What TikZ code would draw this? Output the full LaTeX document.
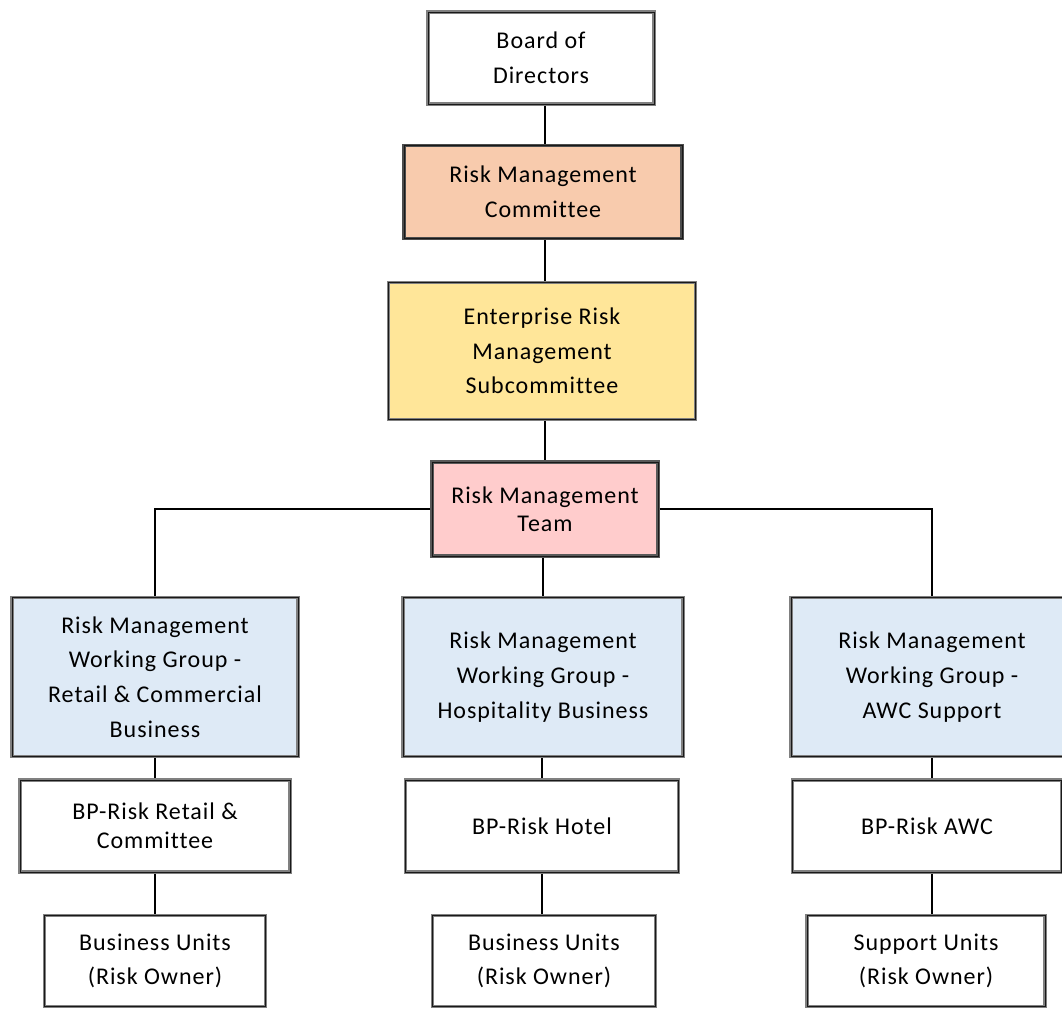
\documentclass[tikz,border=0pt]{standalone}
\usepackage{fontspec}
\setmainfont{Carlito}[LetterSpace=4, Ligatures={NoCommon}]
\usepackage{xcolor}
\usepackage{tikz}
\usetikzlibrary{positioning}
\usetikzlibrary{calc}

\definecolor{boardfill}{HTML}{FFFFFF}
\definecolor{rmcfill}{HTML}{F8CBAD}
\definecolor{ermsfill}{HTML}{FFE699}
\definecolor{rmtfill}{HTML}{FFCCCC}
\definecolor{wgfill}{HTML}{DEEAF6}

\tikzset{
	orgbox/.style={draw=black!50, line width=2.6pt, rectangle, align=center, inner sep=0pt,
		font=\fontsize{18}{26}\selectfont,
		postaction={draw=black!90, line width=0.7pt}},
	link/.style={-, line width=1.5pt}
}

\begin{document}
\begin{tikzpicture}[x=0.75pt, y=-0.75pt]
			\useasboundingbox (0,0) rectangle (1062,1008);

			\node[orgbox, fill=boardfill, minimum width=226*0.75pt, minimum height=92*0.75pt] (board) at (541,58) {Board of\\Directors};
			\node[orgbox, fill=rmcfill, draw=black!70, minimum width=278*0.75pt, minimum height=93*0.75pt] (rmc) at (543,192) {Risk Management\\Committee};
			\node[orgbox, fill=ermsfill, minimum width=307*0.75pt, minimum height=137*0.75pt] (erms) at (542,351) {Enterprise Risk\\Management\\Subcommittee};
			\node[orgbox, fill=rmtfill, draw=black!65, minimum width=226*0.75pt, minimum height=94*0.75pt, font=\fontsize{18}{21}\selectfont] (rmt) at (545,509) {Risk Management\\Team};

			\node[orgbox, fill=wgfill, minimum width=286*0.75pt, minimum height=159*0.75pt] (wgretail) at (155,677) {Risk Management\\Working Group -\\Retail \& Commercial\\Business};
			\node[orgbox, fill=wgfill, minimum width=280*0.75pt, minimum height=159*0.75pt] (wghotel) at (543,677) {Risk Management\\Working Group -\\Hospitality Business};
			\node[orgbox, fill=wgfill, minimum width=282*0.75pt, minimum height=159*0.75pt] (wgawc) at (932,677) {Risk Management\\Working Group -\\AWC Support};

			\node[orgbox, fill=white, minimum width=270*0.75pt, minimum height=92*0.75pt, font=\fontsize{18}{22}\selectfont] (bpretail) at (155,826) {BP-Risk Retail \&\\Committee};
			\node[orgbox, fill=white, minimum width=273*0.75pt, minimum height=92*0.75pt] (bphotel) at (542,826) {BP-Risk Hotel};
			\node[orgbox, fill=white, minimum width=269*0.75pt, minimum height=92*0.75pt] (bpawc) at (927,826) {BP-Risk AWC};

			\node[orgbox, fill=white, minimum width=221*0.75pt, minimum height=91*0.75pt] (buretail) at (155,961) {Business Units\\(Risk Owner)};
			\node[orgbox, fill=white, minimum width=223*0.75pt, minimum height=91*0.75pt] (buhotel) at (544,961) {Business Units\\(Risk Owner)};
			\node[orgbox, fill=white, minimum width=238*0.75pt, minimum height=91*0.75pt] (suawc) at (926,961) {Support Units\\(Risk Owner)};

			\draw[link] (board.south -| rmt) -- (rmc.north -| rmt);
			\draw[link] (rmc.south -| rmt) -- (erms.north -| rmt);
			\draw[link] (erms.south -| rmt) -- (rmt.north);
			\draw[link] (rmt.south -| wghotel) -- (wghotel.north);
			\draw[link] (rmt.west) -| (wgretail.north);
			\draw[link] (rmt.east) -| (wgawc.north);

			\draw[link] (wgretail.south) -- (bpretail.north);
			\draw[link] (bpretail.south) -- (buretail.north -| bpretail);
			\draw[link] (wghotel.south -| bphotel) -- (bphotel.north);
			\draw[link] (bphotel.south) -- (buhotel.north -| bphotel);
			\draw[link] (wgawc.south) -- (bpawc.north -| wgawc);
			\draw[link] (bpawc.south -| wgawc) -- (suawc.north -| wgawc);
		\end{tikzpicture}
\end{document}
